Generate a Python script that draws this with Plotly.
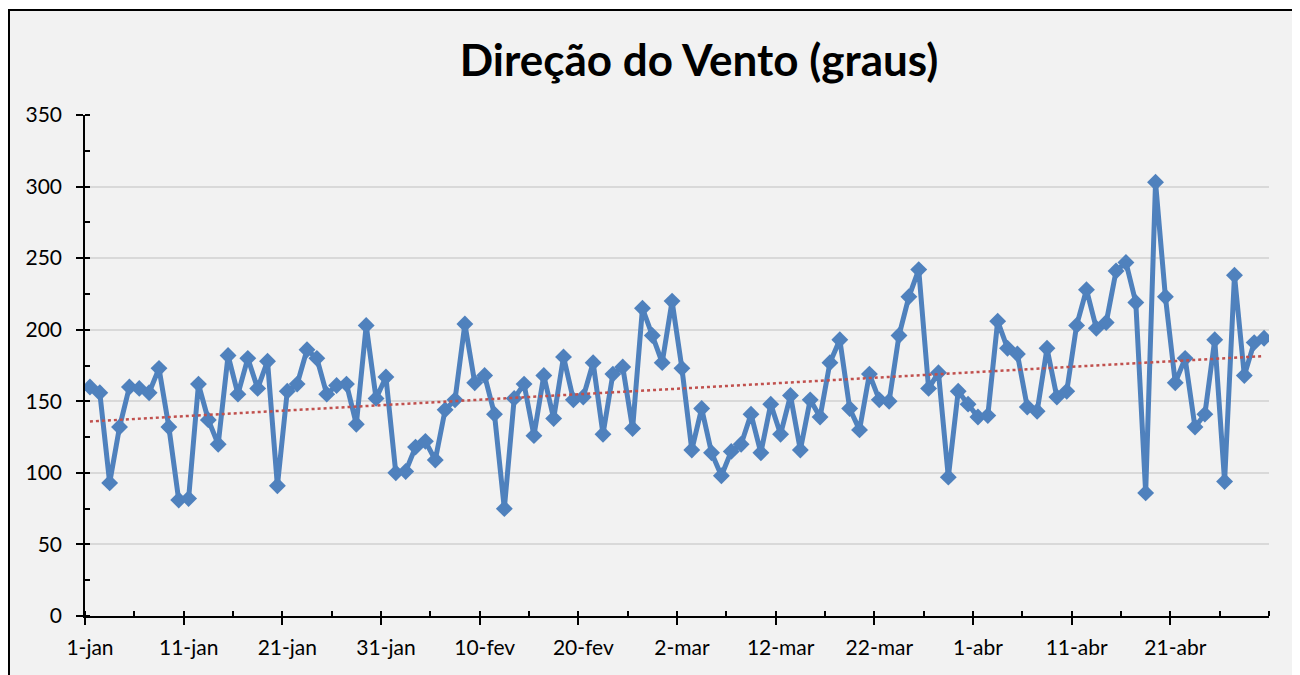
import numpy as np
import pandas as pd
import plotly.graph_objects as go

# ---- data ----
start_date = "2015-01-01"
n_days = 120
dates = pd.date_range(start_date, periods=n_days, freq="D")

direction = [
    160, 156, 93, 132, 160, 159, 156, 173, 132, 81,
    82, 162, 137, 120, 182, 155, 180, 159, 178, 91,
    157, 162, 186, 180, 155, 161, 162, 134, 203, 152,
    167, 100, 101, 118, 122, 109, 144, 151, 204, 163,
    168, 141, 75, 152, 162, 126, 168, 138, 181, 151,
    153, 177, 127, 169, 174, 131, 215, 196, 177, 220,
    173, 116, 145, 114, 98, 115, 120, 141, 114, 148,
    127, 154, 116, 151, 139, 177, 193, 145, 130, 169,
    151, 150, 196, 223, 242, 159, 170, 97, 157, 148,
    139, 140, 206, 187, 183, 146, 143, 187, 153, 157,
    203, 228, 201, 205, 241, 247, 219, 86, 303, 223,
    163, 180, 132, 141, 193, 94, 238, 168, 191, 194,
]

tick_labels = ["1-jan", "11-jan", "21-jan", "31-jan", "10-fev", "20-fev",
               "2-mar", "12-mar", "22-mar", "1-abr", "11-abr", "21-abr"]
tick_dates = pd.date_range(start_date, periods=len(tick_labels), freq="10D")

title_text = "Direção do Vento (graus)"

# linear trend (computed from the data)
idx = np.arange(n_days)
slope, intercept = np.polyfit(idx, direction, 1)
trend = slope * idx + intercept

DAY_MS = 86400000
FONT = "Lato, Carlito, Calibri, sans-serif"

# the page body adds an 8px margin, so the figure is sized/placed to compensate
W, H = 1292, 667

fig = go.Figure()
fig.add_trace(go.Scatter(
    x=dates, y=direction, mode="lines+markers",
    xperiod=DAY_MS, xperiodalignment="middle",
    line=dict(color="#4f81bd", width=5),
    marker=dict(symbol="diamond", size=13, color="#4f81bd"),
    showlegend=False, hoverinfo="x+y",
))
fig.add_trace(go.Scatter(
    x=[dates[0], dates[-1]], y=[trend[0], trend[-1]], mode="lines",
    xperiod=DAY_MS, xperiodalignment="middle",
    line=dict(color="#c0504d", width=2.5, dash="dot"),
    showlegend=False, hoverinfo="skip",
))

# chart area frame
fig.add_shape(type="rect", xref="paper", yref="paper",
              x0=-0.0642, x1=1.0211, y0=-0.2, y1=1.2096,
              fillcolor="#f2f2f2", line=dict(color="#000000", width=2),
              layer="below")

fig.update_layout(
    width=W, height=H,
    margin=dict(l=77, r=31, t=107, b=59),
    paper_bgcolor="#ffffff",
    plot_bgcolor="#f2f2f2",
    font=dict(family=FONT, size=21, color="#000000"),
    title=dict(text="<b>" + title_text + "</b>", x=691 / W, xanchor="center",
               xref="container", y=1 - 53 / H, yref="container", yanchor="middle",
               font=dict(family=FONT, size=44, color="#000000")),
    xaxis=dict(
        type="date",
        range=[dates[0], dates[-1] + pd.Timedelta(days=1)],
        tickmode="array", tickvals=tick_dates, ticktext=tick_labels,
        ticks="outside", ticklen=7, tickwidth=1.5, tickcolor="#000000",
        ticklabelshift=5, ticklabelstandoff=5,
        showline=True, linecolor="#000000", linewidth=1.5,
        showgrid=False, zeroline=False,
        minor=dict(dtick=5 * DAY_MS, tick0=dates[0], ticks="inside",
                   ticklen=5, tickwidth=1.5, tickcolor="#000000", showgrid=False),
        tickfont=dict(family=FONT, size=21, color="#000000"),
    ),
    yaxis=dict(
        range=[0, 350], dtick=50, tick0=0,
        ticks="outside", ticklen=7, tickwidth=1.5, tickcolor="#000000",
        ticklabelstandoff=10,
        showline=True, linecolor="#000000", linewidth=1.5,
        showgrid=True, gridcolor="#d9d9d9", gridwidth=1.5,
        zeroline=False,
        minor=dict(dtick=25, ticks="inside", ticklen=5, tickwidth=1.5,
                   tickcolor="#000000", showgrid=False),
        tickfont=dict(family=FONT, size=21, color="#000000"),
    ),
)

fig.write_html("out.html")
